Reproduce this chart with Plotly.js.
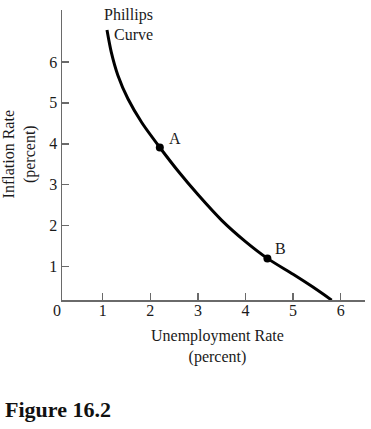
<!DOCTYPE html>
<html>
<head>
<meta charset="utf-8">
<script src="https://cdn.plot.ly/plotly-3.0.1.min.js"></script>
<style>html,body{margin:0;padding:0;background:#fff;}#chart{width:371px;height:429px;}</style>
</head>
<body>
<div id="chart"></div>
<script>
// Phillips curve (unemployment %, inflation %)
const curveUnemployment = [1.09, 1.18, 1.32, 1.53, 1.82, 2.20, 2.60, 3.00, 3.50, 4.00, 4.46, 5.00, 5.40, 5.81];
const curveInflation    = [6.78, 6.24, 5.67, 5.10, 4.52, 3.91, 3.31, 2.76, 2.13, 1.61, 1.20, 0.81, 0.51, 0.18];
const pointNames = ["A", "B"];
const pointUnemployment = [2.20, 4.46];
const pointInflation = [3.91, 1.20];
const xTicks = [1, 2, 3, 4, 5, 6];
const yTicks = [1, 2, 3, 4, 5, 6];

const serif = "Liberation Serif, Times New Roman, serif";
const axisGray = "#6a6a6a";

const traces = [
  {x: curveUnemployment, y: curveInflation, mode: "lines", type: "scatter",
   line: {color: "#000", width: 3, shape: "spline", smoothing: 0.8}, hoverinfo: "skip"},
  {x: pointUnemployment, y: pointInflation, mode: "markers", type: "scatter",
   marker: {color: "#000", size: 8}, hoverinfo: "skip"}
];

const annotations = [
  {text: "Phillips", x: 1.55, y: 7.15, xref: "x", yref: "y", showarrow: false, xanchor: "center", yanchor: "middle"},
  {text: "Curve", x: 1.64, y: 6.66, xref: "x", yref: "y", showarrow: false, xanchor: "center", yanchor: "middle"},
  {text: pointNames[0], x: 2.51, y: 4.14, xref: "x", yref: "y", showarrow: false, xanchor: "center", yanchor: "middle"},
  {text: pointNames[1], x: 4.73, y: 1.43, xref: "x", yref: "y", showarrow: false, xanchor: "center", yanchor: "middle"},
  {text: "0", x: -0.0175, y: -0.035, xref: "paper", yref: "paper", showarrow: false, xanchor: "center", yanchor: "middle"},
  {text: "Inflation Rate<br>(percent)", x: -0.141, y: 0.503, xref: "paper", yref: "paper", showarrow: false,
   textangle: -90, xanchor: "center", yanchor: "middle"},
  {text: "Unemployment Rate<br>(percent)", x: 0.513, y: -0.161, xref: "paper", yref: "paper", showarrow: false,
   xanchor: "center", yanchor: "middle"},
  {text: "<b>Figure 16.2</b>", x: -0.196, y: -0.376, xref: "paper", yref: "paper", showarrow: false,
   xanchor: "left", yanchor: "middle", font: {family: serif, size: 22, color: "#111"}}
];

const layout = {
  width: 371, height: 429,
  margin: {l: 62, r: 6, t: 10, b: 129, pad: 0},
  paper_bgcolor: "#fff", plot_bgcolor: "#fff",
  showlegend: false,
  font: {family: serif, size: 16, color: "#1a1a1a"},
  xaxis: {range: [0.145, 6.51], showgrid: false, zeroline: false, showline: true,
          linecolor: axisGray, linewidth: 1.5, ticks: "inside", ticklen: 7, tickwidth: 1.5,
          tickcolor: axisGray, tickvals: xTicks, ticktext: xTicks.map(String), ticklabelstandoff: -5,
          tickfont: {family: serif, size: 16, color: "#1a1a1a"}, fixedrange: true},
  yaxis: {range: [0.183, 7.27], showgrid: false, zeroline: false, showline: true,
          linecolor: axisGray, linewidth: 1.5, ticks: "inside", ticklen: 7, tickwidth: 1.5,
          tickcolor: axisGray, tickvals: yTicks, ticktext: yTicks.map(String),
          tickfont: {family: serif, size: 16, color: "#1a1a1a"}, fixedrange: true},
  annotations: annotations
};

Plotly.newPlot("chart", traces, layout, {displayModeBar: false, staticPlot: true});
</script>
</body>
</html>
